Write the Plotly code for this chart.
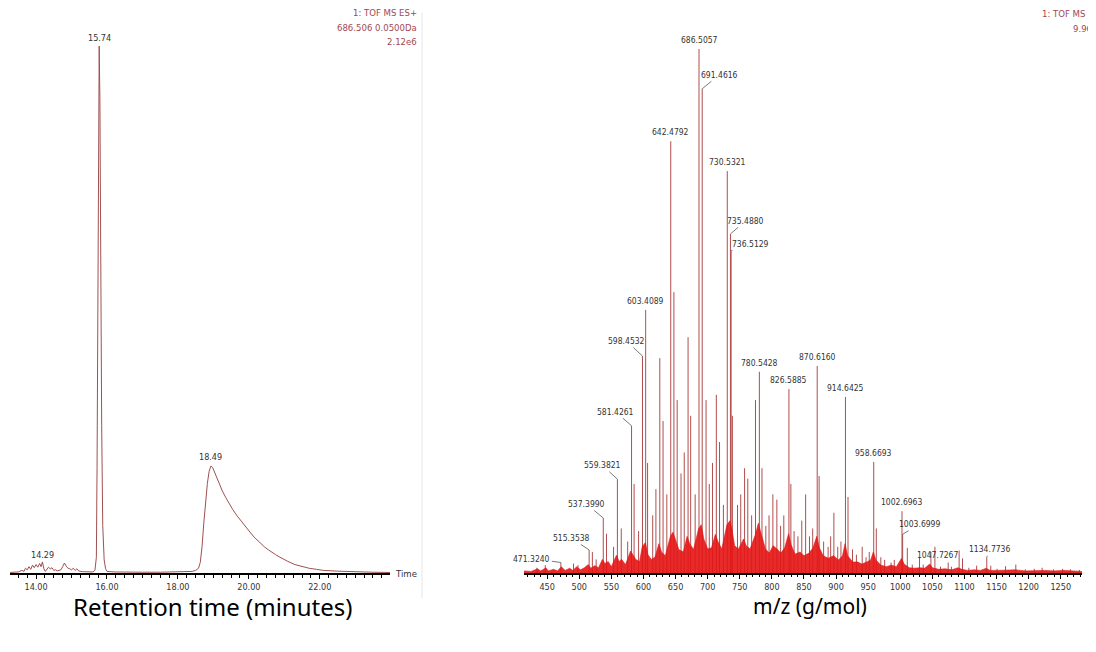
import plotly.graph_objects as go

W, H = 1096, 652

# ---------------- Chromatogram (left) ----------------
rt_min = [13.27, 13.40, 13.50, 13.60, 13.66, 13.70, 13.75, 13.80, 13.85, 13.90,
          13.95, 14.00, 14.05, 14.10, 14.14, 14.18, 14.22, 14.26, 14.30, 14.35,
          14.40, 14.45, 14.50, 14.55, 14.60, 14.70, 14.75, 14.80, 14.85, 14.90,
          14.95, 15.00, 15.05, 15.10, 15.15, 15.20, 15.30, 15.40, 15.50, 15.60,
          15.66, 15.70, 15.72, 15.74, 15.76, 15.78, 15.80, 15.82, 15.85, 15.88,
          15.92, 15.96, 16.00, 16.20, 16.50, 17.00, 17.50, 18.00, 18.40, 18.50,
          18.58, 18.63, 18.68, 18.73, 18.78, 18.83, 18.88, 18.93, 18.98, 19.03,
          19.10, 19.17, 19.25, 19.35, 19.45, 19.55, 19.65, 19.75, 19.85, 19.95,
          20.05, 20.15, 20.25, 20.35, 20.45, 20.55, 20.65, 20.75, 20.85, 20.95,
          21.10, 21.30, 21.50, 21.70, 21.90, 22.10, 22.50, 23.00, 23.50, 23.98]
rt_intensity = [0.1, 0.2, 0.2, 0.5, 0.3, 0.9, 0.6, 1.2, 0.7, 1.5,
                1.0, 1.6, 1.1, 1.8, 1.2, 2.1, 0.8, 0.3, 0.6, 1.1,
                0.8, 1.0, 0.5, 0.6, 0.4, 0.6, 1.2, 1.9, 1.3, 0.9,
                0.8, 0.6, 0.9, 0.5, 0.8, 0.4, 0.25, 0.2, 0.15, 0.2,
                0.5, 3.0, 20.0, 60.0, 92.0, 100.0, 90.0, 62.0, 28.0, 9.0,
                2.5, 0.8, 0.3, 0.2, 0.15, 0.15, 0.15, 0.2, 0.3, 0.5,
                0.9, 2.0, 5.0, 9.5, 13.8, 17.0, 19.3, 20.3, 20.0, 19.2,
                18.0, 16.8, 15.6, 14.3, 13.1, 12.0, 11.0, 10.1, 9.2, 8.4,
                7.6, 6.8, 6.1, 5.5, 4.9, 4.4, 3.9, 3.5, 3.1, 2.7,
                2.2, 1.6, 1.2, 0.9, 0.7, 0.5, 0.35, 0.2, 0.15, 0.1]
chrom_label_text = ["14.29", "15.74", "18.49"]
chrom_label_rt = [14.18, 15.78, 18.93]
chrom_label_int = [2.1, 100.0, 20.3]
chrom_header = ["1: TOF MS ES+", "686.506 0.0500Da", "2.12e6"]

# ---------------- Mass spectrum (right) ----------------
stick_mz = [434.0, 447.0, 471.3240, 491.0, 498.0, 515.3538, 520.4, 526.3, 537.3990, 542.4,
            553.4, 559.3821, 565.4, 575.4, 581.4261, 585.4, 592.4, 598.4532, 603.4089, 606.4,
            614.4, 619.4, 625.45, 630.5, 636.4, 642.4792, 647.43, 652.5, 658.5, 663.5,
            669.48, 673.5, 680.5, 686.5057, 691.4616, 697.5, 702.5, 707.5, 713.5, 718.5,
            724.5, 730.5321, 735.4880, 736.5129, 738.5, 746.5, 751.5, 757.5, 762.5, 768.5,
            774.5, 780.5428, 784.6, 790.6, 795.6, 801.6, 807.8, 813.6, 818.6, 826.5885,
            829.6, 834.6, 840.6, 846.6, 852.6, 858.6, 863.6, 870.6160, 873.6, 880.6,
            887.6, 891.6, 896.6, 902.6, 907.6, 914.6425, 918.6, 925.6, 931.7, 940.7,
            946.7, 951.7, 958.6693, 962.7, 969.7, 975.7, 985.7, 990.7, 1002.6963, 1003.6999,
            1011.0, 1018.7, 1030.0, 1035.7, 1047.7267, 1054.0, 1062.7, 1074.7, 1079.7, 1091.7,
            1097.0, 1106.8, 1119.0, 1134.7736, 1141.0, 1150.8, 1164.0, 1180.0, 1194.8, 1208.8,
            1221.0, 1238.9, 1252.9, 1265.0, 1279.0]
stick_pct = [1.0, 1.5, 2.0, 1.8, 1.5, 4.4, 4.0, 2.6, 10.5, 7.5,
             5.0, 17.9, 8.5, 6.0, 28.1, 17.0, 8.0, 41.4, 50.2, 21.0,
             11.0, 16.0, 41.0, 29.0, 15.0, 82.4, 53.6, 33.0, 19.0, 23.0,
             45.0, 30.0, 15.0, 100.0, 92.4, 33.0, 17.0, 21.0, 34.0, 25.0,
             13.0, 76.7, 64.7, 61.5, 30.0, 13.0, 15.0, 20.0, 18.0, 11.0,
             33.0, 38.4, 20.0, 9.0, 11.0, 15.0, 14.0, 9.0, 11.0, 35.1,
             17.0, 8.0, 7.0, 10.0, 15.0, 7.0, 8.5, 39.5, 18.5, 6.0,
             5.0, 7.0, 11.5, 5.0, 6.0, 33.6, 14.5, 4.5, 3.5, 5.0,
             3.0, 4.0, 21.2, 8.5, 3.0, 2.5, 2.0, 2.5, 11.8, 7.4,
             4.8, 1.6, 3.0, 1.6, 4.0, 5.0, 1.2, 2.0, 1.2, 4.3,
             2.8, 1.0, 1.4, 3.0, 1.4, 0.8, 1.3, 1.6, 0.7, 0.8,
             1.0, 0.7, 0.8, 0.7, 0.6]

# dense low-level signal ("grass") envelope
grass_mz = [414, 425, 435, 440, 448, 452, 460, 466, 472, 478, 485, 490, 496, 502, 508,
            514, 518, 524, 530, 536, 540, 545, 550, 558, 562, 566, 572, 580, 584, 588, 594,
            598, 603, 607, 612, 618, 624, 628, 634, 642, 646, 650, 655, 662, 668, 672, 678,
            686, 690, 694, 700, 706, 712, 716, 722, 730, 735, 738, 742, 748, 756, 760, 766,
            774, 779, 784, 790, 796, 802, 808, 814, 820, 826, 830, 836, 844, 850, 858, 864,
            870, 874, 880, 888, 896, 904, 910, 914, 918, 926, 934, 940, 948, 954, 958, 962,
            970, 978, 986, 994, 1002, 1006, 1014, 1022, 1030, 1038, 1046, 1050, 1060, 1070,
            1080, 1090, 1096, 1105, 1115, 1125, 1134, 1140, 1150, 1165, 1180, 1195, 1210, 1225,
            1240, 1255, 1283]
grass_pct = [0.4, 0.3, 0.8, 0.4, 1.0, 0.4, 0.7, 0.4, 1.2, 0.5, 0.9, 0.5, 1.2, 0.6, 1.0,
             1.6, 0.9, 1.4, 1.0, 2.6, 1.8, 2.2, 1.2, 3.4, 2.2, 2.6, 1.6, 4.2, 3.4, 2.6, 2.2,
             5.0, 5.8, 3.5, 2.6, 3.0, 5.6, 4.0, 3.3, 7.0, 7.8, 6.2, 4.5, 4.0, 7.0, 5.6, 4.5,
             8.5, 9.2, 6.5, 4.6, 4.8, 7.4, 6.0, 4.6, 9.2, 10.0, 8.2, 5.2, 4.6, 6.5, 5.2, 4.6,
             7.2, 9.5, 7.2, 4.6, 3.8, 5.2, 4.6, 3.8, 4.8, 7.5, 5.4, 3.6, 4.0, 3.3, 3.8, 4.8,
             7.0, 4.8, 3.3, 2.8, 3.3, 2.5, 3.3, 5.6, 3.3, 2.1, 2.1, 1.7, 2.1, 2.5, 4.0, 2.5,
             1.5, 1.2, 1.5, 1.2, 2.8, 1.7, 1.0, 0.9, 1.0, 0.9, 1.7, 1.0, 0.7, 0.8,
             0.6, 1.0, 0.7, 0.5, 0.6, 0.5, 0.9, 0.5, 0.5, 0.5, 0.6, 0.4, 0.5, 0.5,
             0.4, 0.5, 0.3]

label_mz = [471.3240, 515.3538, 537.3990, 559.3821, 581.4261, 598.4532, 603.4089, 642.4792,
            686.5057, 691.4616, 730.5321, 735.4880, 736.5129, 780.5428, 826.5885, 870.6160,
            914.6425, 958.6693, 1002.6963, 1003.6999, 1047.7267, 1134.7736]
spec_header = ["1: TOF MS ES+", "9.96e6"]

# ---------------- layout helpers (pixel geometry) ----------------
def px(x):
    return x / W

def py(y):
    return (H - y) / H

L_X0, L_X1, L_BASE, L_TOP = 2, 382, 565, 38       # left plot box (px)
R_X0, R_X1, R_BASE, R_TOP = 516, 1074, 565, 41    # right plot box (px)
YMAX = 102.0
l_top_px = L_BASE - (L_BASE - L_TOP) * YMAX / 100
r_top_px = R_BASE - (R_BASE - R_TOP) * YMAX / 100

NARROW = "Liberation Sans Narrow, DejaVu Sans Condensed, Arial Narrow, sans-serif"
TITLEF = "Noto Sans, Open Sans, sans-serif"
HEAD_COLOR = "#a3474f"
TXT = "#333333"

fig = go.Figure()

fig.add_trace(go.Scatter(x=rt_min, y=rt_intensity, mode="lines",
                         line=dict(color="#a05050", width=1), xaxis="x", yaxis="y",
                         hoverinfo="skip", showlegend=False))

sx, sy = [], []
for m, p in zip(stick_mz, stick_pct):
    sx += [m, m, None]
    sy += [0, p, None]
fig.add_trace(go.Scatter(x=sx, y=sy, mode="lines", line=dict(color="#b34c4c", width=1),
                         xaxis="x2", yaxis="y2", hoverinfo="skip", showlegend=False))
fig.add_trace(go.Scatter(x=grass_mz, y=grass_pct, mode="lines", fill="tozeroy",
                         line=dict(color="#e01515", width=0.6), fillcolor="rgba(228,20,20,0.9)",
                         xaxis="x2", yaxis="y2", hoverinfo="skip", showlegend=False))

axis_common = dict(showline=True, linecolor="black", linewidth=2, ticks="outside",
                   tickcolor="black", ticklen=4, tickwidth=1, showgrid=False, zeroline=False,
                   tickfont=dict(family=NARROW, size=9, color=TXT))

fig.update_layout(
    width=W, height=H, margin=dict(l=0, r=0, t=0, b=0),
    paper_bgcolor="white", plot_bgcolor="white", showlegend=False,
    xaxis=dict(domain=[px(L_X0), px(L_X1)], range=[13.265, 23.98], dtick=2, tick0=0,
               tickformat=".2f", anchor="y",
               minor=dict(dtick=0.25, ticklen=3, ticks="outside", tickcolor="black"),
               **axis_common),
    yaxis=dict(domain=[py(L_BASE), py(l_top_px)], range=[0, YMAX], visible=False, anchor="x"),
    xaxis2=dict(domain=[px(R_X0), px(R_X1)], range=[413.9, 1283.1], dtick=50, tick0=0,
                anchor="y2",
                minor=dict(dtick=10, ticklen=2, ticks="outside", tickcolor="black"),
                **axis_common),
    yaxis2=dict(domain=[py(R_BASE), py(r_top_px)], range=[0, YMAX], visible=False, anchor="x2"),
)

ann = []
LBL = dict(family=NARROW, size=8.5, color=TXT)
# chromatogram peak labels
chrom_yshift = [0, 1, 2]
for t, v, s, ys in zip(chrom_label_rt, chrom_label_int, chrom_label_text, chrom_yshift):
    ann.append(dict(x=t, y=v, xref="x", yref="y", text=s, showarrow=False, yanchor="bottom",
                    yshift=ys, font=dict(family=NARROW, size=9, color=TXT)))
# spectrum peak labels
pct_of = dict(zip(stick_mz, stick_pct))
leader = {471.3240: (-29, -4), 515.3538: (-18, -12), 537.3990: (-17, -14),
          559.3821: (-15, -14), 581.4261: (-16, -14), 598.4532: (-16, -15),
          691.4616: (17, -14), 735.4880: (15, -13), 736.5129: (19, -7),
          1003.6999: (17, -10), 1047.7267: (7, 3), 1134.7736: (3, -8)}
for m in label_mz:
    txt = f"{m:.4f}"
    if m in leader:
        ax_, ay_ = leader[m]
        ann.append(dict(x=m, y=pct_of[m], xref="x2", yref="y2", text=txt, showarrow=True,
                        arrowhead=0, arrowwidth=0.8, arrowcolor="#555555", ax=ax_, ay=ay_,
                        font=LBL))
    else:
        ann.append(dict(x=m, y=pct_of[m], xref="x2", yref="y2", text=txt, showarrow=False,
                        yanchor="bottom", yshift=2, font=LBL))

# headers
for i, s in enumerate(chrom_header):
    ann.append(dict(x=px(411), y=py(5 + 14 * i), xref="paper", yref="paper", text=s,
                    showarrow=False, xanchor="right", yanchor="middle",
                    font=dict(family=NARROW, size=9.5, color=HEAD_COLOR)))
spec_header_x = [1032, 1063]
for i, (s, hx) in enumerate(zip(spec_header, spec_header_x)):
    ann.append(dict(x=px(hx), y=py(6 + 14 * i), xref="paper", yref="paper", text=s,
                    showarrow=False, xanchor="left", yanchor="middle",
                    font=dict(family=NARROW, size=9.5, color=HEAD_COLOR)))
# axis end labels
ann.append(dict(x=px(385), y=py(L_BASE), xref="paper", yref="paper", text="Time",
                showarrow=False, xanchor="left", yanchor="middle",
                font=dict(family=NARROW, size=9.5, color=TXT)))
ann.append(dict(x=px(1081), y=py(R_BASE), xref="paper", yref="paper", text="m/z",
                showarrow=False, xanchor="left", yanchor="middle",
                font=dict(family=NARROW, size=9.5, color=TXT)))
# axis titles
ann.append(dict(x=px(204), y=py(598), xref="paper", yref="paper",
                text="Retention time (minutes)", showarrow=False, xanchor="center",
                yanchor="middle", font=dict(family=TITLEF, size=24, color="black")))
ann.append(dict(x=px(802), y=py(598), xref="paper", yref="paper", text="m/z (g/mol)",
                showarrow=False, xanchor="center", yanchor="middle",
                font=dict(family=TITLEF, size=21, color="black")))
fig.update_layout(annotations=ann)

# light frame edge of the left panel
fig.add_shape(type="line", xref="paper", yref="paper", x0=px(414), x1=px(414),
              y0=py(5), y1=py(590), line=dict(color="#e6e6e6", width=1))

fig.write_html("out.html")
